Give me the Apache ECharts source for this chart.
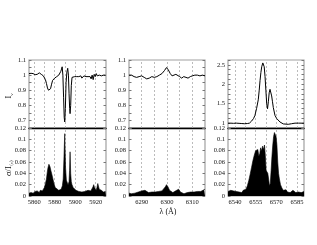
<!DOCTYPE html>
<html><head><meta charset="utf-8">
<script src="https://cdn.jsdelivr.net/npm/echarts@6/dist/echarts.min.js"></script>
<style>html,body{margin:0;padding:0;background:#fff}#c{width:317px;height:245px}</style>
</head><body><div id="c"></div>
<script>
// ---- Panel 1 : Na D region ----
const naWl   = [5855,5856,5857,5858,5859,5860,5861,5862,5863,5864,5865,5866,5867,5868,5869,5870,5871,5872,5873,5874,5875,5876,5877,5878,5879,5880,5881,5882,5883,5884,5885,5886,5886.7,5887.3,5888,5888.7,5889.3,5889.8,5890.4,5891.1,5891.9,5892.7,5893.4,5894,5894.6,5895,5895.6,5896.2,5896.9,5897.7,5898.5,5899.5,5900.5,5901.5,5902.5,5903.5,5904.5,5905.5,5906.5,5907.5,5908.5,5909.5,5910.5,5911.5,5912.5,5913.5,5914.5,5915.5,5916.5,5917.5,5918.5,5919.5,5920.5,5921.5,5922.5,5923.5,5924.5,5925.5,5926.5,5927.5,5928.5,5929.5,5930];
const naFlux = [1.01,1.01,1.012,1.008,1.01,1.005,1.003,1.0,1.005,1.01,1.015,1.012,1.005,1.0,0.995,0.985,0.97,0.945,0.915,0.9,0.895,0.91,0.94,0.965,0.975,0.98,0.985,0.99,0.995,1.0,1.01,1.025,1.04,1.055,1.0,0.85,0.72,0.69,0.78,0.95,1.02,1.045,1.0,0.88,0.78,0.745,0.8,0.93,0.985,0.98,0.985,0.99,0.982,0.99,0.985,0.99,0.985,0.995,0.98,0.99,0.995,0.985,0.99,0.98,0.99,0.995,0.99,0.975,1.0,0.97,1.005,0.99,1.01,0.995,0.985,1.0,1.01,0.995,1.005,1.0,1.005,1.0,1.0];
const naSigWl = [5855,5856,5857,5858,5859,5860,5861,5862,5863,5864,5865,5866,5867,5868,5869,5870,5871,5872,5872.8,5873.5,5874.4,5875.4,5876.3,5877.3,5878.3,5879.3,5880.5,5882,5884,5886.3,5887.5,5888.3,5889,5889.8,5890.6,5891.4,5892,5893,5894,5894.5,5895,5895.6,5896.2,5896.9,5898,5899.5,5900.7,5902,5903.5,5905,5906.5,5908,5909.5,5911,5912.5,5914,5915.2,5916.5,5917.3,5918,5918.8,5919.6,5920.4,5921.2,5922,5922.6,5923.4,5924.5,5925.5,5926.5,5927.5,5928.5,5929.5,5930];
const naSig   = [0.005,0.008,0.006,0.009,0.005,0.007,0.008,0.006,0.009,0.007,0.006,0.01,0.007,0.009,0.011,0.015,0.022,0.03,0.042,0.05,0.056,0.052,0.045,0.038,0.03,0.022,0.015,0.012,0.01,0.012,0.018,0.03,0.065,0.11,0.05,0.028,0.025,0.02,0.025,0.045,0.078,0.04,0.025,0.02,0.015,0.012,0.01,0.012,0.008,0.01,0.007,0.01,0.008,0.007,0.01,0.008,0.009,0.012,0.016,0.02,0.015,0.012,0.01,0.015,0.022,0.02,0.012,0.009,0.01,0.008,0.007,0.009,0.008,0.008];
const xTicks1 = [5860,5880,5900,5920];
const xGrid1  = [5860,5870,5880,5890,5900,5910,5920];

// ---- Panel 2 : [O I] 6300 region ----
const oWl   = [6285,6286,6287,6288,6289,6290,6291,6292,6293,6294,6295,6296,6297,6298,6299,6299.8,6300.5,6301.3,6302,6302.7,6303.5,6304.2,6305,6305.8,6306.6,6307.5,6308.3,6309.2,6310,6311,6312,6313,6314,6315];
const oFlux = [1.0,1.0,0.99,0.985,0.99,0.995,0.985,0.975,0.98,0.99,0.985,0.99,1.0,1.01,1.03,1.05,1.035,1.01,0.995,0.99,1.005,1.01,0.99,0.98,0.99,0.985,0.98,0.99,0.995,1.0,1.0,0.995,1.0,0.995];
const oSigWl = [6285,6285.5,6286,6286.7,6287.3,6288,6288.7,6289.3,6290,6290.7,6291.3,6292,6292.7,6293.3,6294,6294.7,6295.3,6296,6296.7,6297.3,6298,6298.7,6299.3,6299.8,6300.4,6301,6301.7,6302.3,6303,6303.8,6304.6,6305.3,6306,6306.7,6307.3,6308,6308.7,6309.3,6310,6310.7,6311.3,6312,6312.7,6313.3,6314,6314.6,6315];
const oSig   = [0.005,0.008,0.004,0.006,0.005,0.008,0.007,0.01,0.009,0.007,0.01,0.008,0.006,0.008,0.007,0.009,0.007,0.006,0.008,0.007,0.009,0.011,0.016,0.02,0.016,0.01,0.007,0.006,0.008,0.01,0.012,0.007,0.005,0.004,0.005,0.006,0.005,0.007,0.006,0.007,0.006,0.008,0.009,0.008,0.01,0.011,0.012];
const xTicks2 = [6290,6300,6310];
const xGrid2  = [6290,6295,6300,6305,6310];

// ---- Panel 3 : H-alpha region ----
const hWl   = [6535,6537,6539,6541,6543,6545,6547,6549,6550.5,6552,6553.5,6554.5,6555.7,6556.9,6557.6,6558.2,6558.8,6559.4,6560.2,6560.6,6561.2,6561.8,6562.4,6563.0,6563.6,6564.2,6564.8,6565.4,6566.0,6566.6,6567.2,6567.8,6569,6570.2,6571.4,6572.6,6573.9,6575,6576.2,6578.6,6581,6583.5,6586,6588,6590];
const hFlux = [1.0,1.0,0.995,1.0,0.995,0.99,0.985,0.99,1.0,1.05,1.12,1.2,1.38,1.6,1.85,2.1,2.3,2.45,2.55,2.56,2.45,2.2,1.85,1.5,1.37,1.55,1.78,1.87,1.84,1.7,1.55,1.4,1.2,1.12,1.07,1.03,1.0,0.98,0.97,0.97,0.985,1.0,1.0,1.0,1.0];
const hSigWl = [6535,6536,6537,6538,6539,6540,6541,6542,6543,6544,6545,6546,6547,6548,6549,6550,6551,6552,6553,6554,6555,6555.8,6556.6,6557.3,6558,6558.6,6559.3,6560,6560.7,6561.4,6562,6562.6,6563.2,6563.8,6564.4,6565,6565.6,6566.2,6566.8,6567.4,6568,6568.6,6569.2,6569.8,6570.4,6571,6571.6,6572.2,6573,6574,6575,6576,6577,6578,6579,6580,6581,6582,6583,6584,6585,6586,6587,6588,6589,6590];
const hSig   = [0.008,0.006,0.01,0.007,0.009,0.006,0.008,0.01,0.007,0.009,0.006,0.01,0.008,0.012,0.018,0.027,0.038,0.05,0.062,0.072,0.08,0.078,0.082,0.07,0.075,0.085,0.08,0.088,0.082,0.09,0.072,0.045,0.042,0.04,0.03,0.018,0.022,0.045,0.07,0.09,0.105,0.112,0.114,0.105,0.09,0.06,0.04,0.03,0.02,0.014,0.01,0.008,0.011,0.007,0.009,0.006,0.008,0.01,0.007,0.006,0.008,0.007,0.009,0.006,0.008,0.008];
const xTicks3 = [6540,6555,6570,6585];
const xGrid3  = [6540,6547.5,6555,6562.5,6570,6577.5,6585];

// ---- y tick labels ----
const yTicksTop  = [0.7,0.8,0.9,1,1.1];
const yTicksTop3 = [1,1.5,2,2.5];
const yTicksBot  = [0,0.02,0.04,0.06,0.08,0.1,0.12];

const FONT = 'Liberation Serif';
const zip = (a,b) => a.map((x,i)=>[x,b[i]]);
const pick = (arr) => (v => { const t = arr.find(t => Math.abs(t - v) < 1e-6); return t === undefined ? '' : String(t); });

const panels = [
  {left:29,  width:77, xmin:5855, xmax:5930, xint:5,   xt:xTicks1, xg:xGrid1, top:[naWl,naFlux], bot:[naSigWl,naSig], ymin:0.65, ymax:1.1, yint:0.05, yt:yTicksTop},
  {left:129, width:76, xmin:6285, xmax:6315, xint:5,   xt:xTicks2, xg:xGrid2, top:[oWl,oFlux],   bot:[oSigWl,oSig],   ymin:0.65, ymax:1.1, yint:0.05, yt:yTicksTop},
  {left:228, width:76, xmin:6535, xmax:6590, xint:2.5, xt:xTicks3, xg:xGrid3, top:[hWl,hFlux],   bot:[hSigWl,hSig],   ymin:0.875, ymax:2.625, yint:0.125, yt:yTicksTop3}
];

const grid=[], xAxis=[], yAxis=[], series=[];
const labelStyle = {fontFamily:FONT, fontSize:6.5, color:'#111'};
panels.forEach((p) => {
  ['top','bot'].forEach((part) => {
    const gi = grid.length;
    const isTop = part === 'top';
    grid.push({left:p.left, width:p.width, top: isTop ? 60 : 128, height:68, show:true, borderColor:'#a0a0a0', borderWidth:1.2, backgroundColor:'transparent'});
    xAxis.push({type:'value', gridIndex:gi, min:p.xmin, max:p.xmax, interval:p.xint,
      axisLine:{show:isTop, onZero:false, lineStyle:{color:'#000', width:1.4}},
      axisTick:{show:false}, splitLine:{show:false},
      axisLabel:{show:!isTop, ...labelStyle, margin:3, formatter: pick(p.xt)}});
    const ymin = isTop ? p.ymin : 0, ymax = isTop ? p.ymax : 0.12, yint = isTop ? p.yint : 0.02;
    const yt = isTop ? p.yt : yTicksBot;
    yAxis.push({type:'value', gridIndex:gi, min:ymin, max:ymax, interval:yint,
      axisLine:{show:false}, splitLine:{show:false},
      axisTick:{show:true, inside:true, length:2.5, lineStyle:{color:'#777', width:1}},
      axisLabel:{...labelStyle, margin:3, formatter: pick(yt)}});
    yAxis.push({type:'value', gridIndex:gi, position:'right', min:ymin, max:ymax, interval:yint,
      axisLine:{show:false}, splitLine:{show:false}, axisLabel:{show:false},
      axisTick:{show:true, inside:true, length:2.5, lineStyle:{color:'#777', width:1}}});
    const yi = yAxis.length - 2;
    series.push({type:'line', xAxisIndex:gi, yAxisIndex:yi, data:[], z:1, silent:true,
      markLine:{z:1, silent:true, symbol:['none','none'], animation:false, label:{show:false},
        lineStyle:{type:[2,2], color:'#aaa', width:0.8}, emphasis:{disabled:true},
        data: p.xg.map(v => ({xAxis:v}))}});
    const d = isTop ? p.top : p.bot;
    series.push({type:'line', xAxisIndex:gi, yAxisIndex:yi, data: zip(d[0], d[1]), z:3,
      showSymbol:false, symbol:'none', smooth:false, animation:false, silent:true,
      lineStyle:{color:'#000', width: isTop ? 1 : 0.6},
      areaStyle: isTop ? undefined : {color:'#000', opacity:1}});
  });
});

const chart = echarts.init(document.getElementById('c'), null, {renderer:'canvas'});
chart.setOption({
  animation:false,
  grid, xAxis, yAxis, series,
  graphic:[
    {type:'text', x:9, y:96, rotation:Math.PI/2, style:{text:'{m|I}{s|ν}', align:'center', verticalAlign:'middle', fill:'#111',
      rich:{m:{fontFamily:FONT, fontSize:8.5, lineHeight:10}, s:{fontFamily:FONT, fontSize:5, verticalAlign:'bottom', lineHeight:10}}}},
    {type:'text', x:9, y:168, rotation:Math.PI/2, style:{text:'{m|σ/I}{s|⟨c⟩}', align:'center', verticalAlign:'middle', fill:'#111',
      rich:{m:{fontFamily:FONT, fontSize:8.5, lineHeight:10}, s:{fontFamily:FONT, fontSize:5, verticalAlign:'bottom', lineHeight:10}}}},
    {type:'text', x:168, y:212, style:{text:'λ (Å)', align:'center', verticalAlign:'middle', fill:'#111', font:'8px "Liberation Serif"'}}
  ]
});
</script></body></html>
